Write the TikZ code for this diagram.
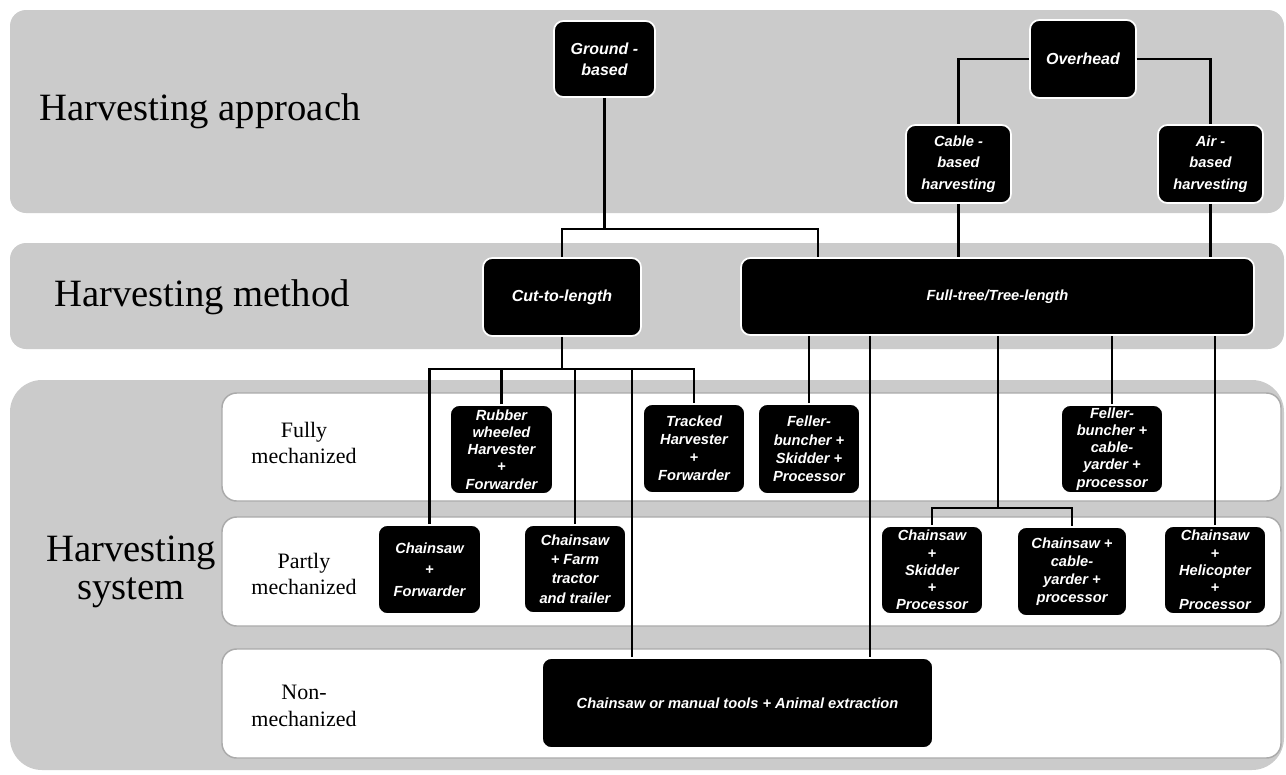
\documentclass[tikz,border=0pt]{standalone}
\usepackage{fontspec}
\setmainfont{Liberation Serif}
\newfontfamily\boxf{Liberation Sans}
\definecolor{bandgray}{RGB}{203,203,203}
\definecolor{rowline}{RGB}{170,170,170}
\begin{document}
\begin{tikzpicture}[x=0.75pt,y=-0.75pt,
  row/.style={fill=white, draw=rowline, line width=1.1pt, rounded corners=11pt},
  bx/.style={draw=white, line width=1.3pt, fill=black, rounded corners=7pt, text=white, align=center, inner sep=1pt, font=\boxf\bfseries\itshape\fontsize{11}{12.9}\selectfont},
  bxm/.style={bx, font=\boxf\bfseries\itshape\fontsize{11}{14.5}\selectfont},
  bxl/.style={bx, font=\boxf\bfseries\itshape\fontsize{11}{16}\selectfont},
  bxb/.style={bx, font=\boxf\bfseries\itshape\fontsize{12}{15}\selectfont},
  sz/.style 2 args={minimum width=#1*0.75pt, minimum height=#2*0.75pt},
  big/.style={font=\fontsize{29}{28.5}\selectfont, align=center, inner sep=0pt},
  lvl/.style={font=\fontsize{16.5}{20}\selectfont, align=center, inner sep=0pt},
  conn/.style={line width=1.7pt, draw=black},
]
\useasboundingbox (0,0) rectangle (1286,775);
% bands
\fill[bandgray, rounded corners=12pt] (10,10) rectangle (1284,213);
\fill[bandgray, rounded corners=12pt] (10,243) rectangle (1284,349);
\fill[bandgray, rounded corners=24pt] (10,380) rectangle (1284,770);
\draw[row] (222,393) rectangle (1281,501);
\draw[row] (222,517) rectangle (1281,626);
\draw[row] (222,649) rectangle (1281,758);

% level labels
\node[big] (lapp) at (200,111) {Harvesting approach};
\node[big] (lmet) at (202,297) {Harvesting method};
\node[big] (lsys) at (131,572) {Harvesting\\system};
\node[lvl] (lful) at (304,443) {Fully\\mechanized};
\node[lvl] (lpar) at (304,574) {Partly\\mechanized};
\node[lvl] (lnon) at (304,706) {Non-\\mechanized};

% boxes
\node[bxb, font=\boxf\bfseries\itshape\fontsize{12}{16}\selectfont, sz={101}{76}] (ground) at (604.5,59) {Ground -\\based};
\node[bxb, sz={106}{78}] (overhead) at (1083,59) {Overhead};
\node[bxl, sz={105}{78}] (cable) at (958.5,164) {Cable -\\based\\harvesting};
\node[bxl, sz={105}{78}] (air) at (1210.5,164) {Air -\\based\\harvesting};
\node[bxb, sz={158}{78}] (cut) at (562,297) {Cut-to-length};
\node[bxl, sz={513}{77}] (full) at (997.5,296.5) {Full-tree/Tree-length};

\node[bx, sz={103}{89}] (rubber) at (501.5,449.5) {Rubber\\wheeled\\Harvester\\+\\Forwarder};
\node[bxm, font=\boxf\bfseries\itshape\fontsize{11}{13.6}\selectfont, sz={102}{89}] (tracked) at (694,448.5) {Tracked\\Harvester\\+\\Forwarder};
\node[bxm, font=\boxf\bfseries\itshape\fontsize{11}{13.8}\selectfont, sz={102}{90}] (fellerskid) at (809,449) {Feller-\\buncher +\\Skidder +\\Processor};
\node[bx, sz={102}{88}] (fellercable) at (1112,449) {Feller-\\buncher +\\cable-\\yarder +\\processor};

\node[bxl, sz={103}{89}] (csfwd) at (429.5,569.5) {Chainsaw\\+\\Forwarder};
\node[bxm, sz={102}{88}] (csfarm) at (575,569) {Chainsaw\\+ Farm\\tractor\\and trailer};
\node[bx, sz={102}{88}] (csskid) at (932,570) {Chainsaw\\+\\Skidder\\+\\Processor};
\node[bxm, font=\boxf\bfseries\itshape\fontsize{11}{13.6}\selectfont, sz={110}{89}] (cscable) at (1072,571.5) {Chainsaw +\\cable-\\yarder +\\processor};
\node[bx, sz={102}{88}] (csheli) at (1215,570) {Chainsaw\\+\\Helicopter\\+\\Processor};

\node[bxl, sz={391}{90}] (manual) at (737.5,703) {Chainsaw or manual tools + Animal extraction};

% helper coordinates
\coordinate (g1) at (604.5,229);
\coordinate (xf1) at (818,0);
\coordinate (cbar) at (0,369);
\coordinate (xm1) at (632,0);
\coordinate (xm2) at (870,0);
\coordinate (bb) at (998,508);

% connectors
\draw[conn] (ground.south) -- (g1);
\draw[conn] (cut.north) |- (g1) -| (full.north -| xf1);
\draw[conn] (overhead.west) -| (cable.north);
\draw[conn] (overhead.east) -| (air.north);
\draw[conn] (cable.south) -- (cable.south |- full.north);
\draw[conn] (air.south) -- (air.south |- full.north);

\draw[conn] (cut.south) -- (cut.south |- cbar);
\draw[conn] (csfwd.north) |- (tracked.north |- cbar) -- (tracked.north);
\draw[conn] (rubber.north) -- (rubber.north |- cbar);
\draw[conn] (csfarm.north) -- (csfarm.north |- cbar);
\draw[conn] (manual.north -| xm1) -- (xm1 |- cbar);

\draw[conn] (fellerskid.north) -- (fellerskid.north |- full.south);
\draw[conn] (full.south -| xm2) -- (manual.north -| xm2);
\draw[conn] (full.south -| bb) -- (bb);
\draw[conn] (csskid.north) |- (bb) -| (cscable.north);
\draw[conn] (fellercable.north) -- (fellercable.north |- full.south);
\draw[conn] (csheli.north) -- (csheli.north |- full.south);
\end{tikzpicture}
\end{document}
